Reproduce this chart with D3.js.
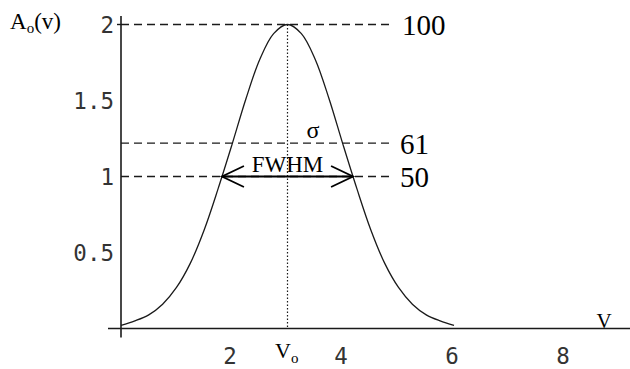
<!DOCTYPE html>
<html>
<head>
<meta charset="utf-8">
<script src="https://cdn.jsdelivr.net/npm/d3@7"></script>
<style>
  html, body { margin: 0; padding: 0; background: #fff; overflow: hidden; }
  svg { display: block; }
</style>
</head>
<body>
<svg id="chart" width="630" height="369"></svg>
<script>
// Line profile A_o(v), sampled every 0.25 along v
const vSamples = [0, 0.25, 0.5, 0.75, 1, 1.25, 1.5, 1.75, 2, 2.25, 2.5, 2.75, 3,
                  3.25, 3.5, 3.75, 4, 4.25, 4.5, 4.75, 5, 5.25, 5.5, 5.75, 6];
const aSamples = [0.02, 0.05, 0.09, 0.16, 0.27, 0.43, 0.65, 0.92, 1.21, 1.51, 1.77, 1.94, 2.00,
                  1.94, 1.77, 1.51, 1.21, 0.92, 0.65, 0.43, 0.27, 0.16, 0.09, 0.05, 0.02];

// Axis ticks
const xTicks = [2, 4, 6, 8];
const yTicks = [0.5, 1, 1.5, 2];
const yTickLabels = ["0.5", "1", "1.5", "2"];

// Line centre and the marked levels (percent of the peak)
const centreV = 3;
const levelPercents = [100, 61, 50];

const svg = d3.select("#chart");

const x = d3.scaleLinear().domain([0, 1]).range([121, 176.5]);
const y = d3.scaleLinear().domain([0, 2]).range([328.5, 24.5]);

const peak = d3.max(aSamples);
const ink = "#1a1a1a";
const serif = "'Liberation Serif', 'Times New Roman', serif";
const mono = "'DejaVu Sans Mono', monospace";

// Axes: plain crossing lines
svg.append("line")
  .attr("x1", x(0) - 13).attr("x2", 630)
  .attr("y1", y(0)).attr("y2", y(0))
  .attr("stroke", ink).attr("stroke-width", 1.6);
svg.append("line")
  .attr("x1", x(0)).attr("x2", x(0))
  .attr("y1", 16).attr("y2", y(0) + 9)
  .attr("stroke", ink).attr("stroke-width", 1.6);
svg.append("line")
  .attr("x1", x(0) - 4).attr("x2", x(0))
  .attr("y1", y(2)).attr("y2", y(2))
  .attr("stroke", ink).attr("stroke-width", 1.4);

// Tick labels
svg.append("g").selectAll("text").data(yTicks).join("text")
  .attr("x", x(0) - 7)
  .attr("y", d => y(d))
  .attr("dy", "0.36em")
  .attr("text-anchor", "end")
  .attr("font-family", mono).attr("font-size", 22.5)
  .attr("fill", "#333")
  .text((d, i) => yTickLabels[i]);

svg.append("g").selectAll("text").data(xTicks).join("text")
  .attr("x", d => x(d) - 2)
  .attr("y", 356)
  .attr("dy", "0.36em")
  .attr("text-anchor", "middle")
  .attr("font-family", mono).attr("font-size", 22.5)
  .attr("fill", "#333")
  .text(d => d);

// Where the profile crosses a level, left and right of the centre
function crossings(level) {
  const out = [];
  for (let i = 0; i < vSamples.length - 1; i++) {
    const a0 = aSamples[i], a1 = aSamples[i + 1];
    if ((a0 - level) * (a1 - level) <= 0 && a0 !== a1) {
      const t = (level - a0) / (a1 - a0);
      out.push(vSamples[i] + t * (vSamples[i + 1] - vSamples[i]));
    }
  }
  return out;
}

// Dashed level lines with their percent labels
const lineEnd = 392;
levelPercents.forEach(p => {
  const level = peak * p / 100;
  svg.append("line")
    .attr("x1", x(0)).attr("x2", lineEnd)
    .attr("y1", y(level)).attr("y2", y(level))
    .attr("stroke", ink).attr("stroke-width", 1.3)
    .attr("stroke-dasharray", "8,5");
  svg.append("text")
    .attr("x", p === 100 ? 402 : 400)
    .attr("y", y(level))
    .attr("dy", "0.36em")
    .attr("font-family", serif).attr("font-size", 29)
    .attr("fill", "#000")
    .text(p);
});

// Dotted line at the centre
svg.append("line")
  .attr("x1", x(centreV)).attr("x2", x(centreV))
  .attr("y1", y(peak)).attr("y2", y(0))
  .attr("stroke", ink).attr("stroke-width", 1.2)
  .attr("stroke-dasharray", "1.5,2");

// Profile
const line = d3.line()
  .x((d, i) => x(vSamples[i]))
  .y(d => y(d))
  .curve(d3.curveCatmullRom);
svg.append("path")
  .attr("d", line(aSamples))
  .attr("fill", "none")
  .attr("stroke", ink).attr("stroke-width", 1.3);

// FWHM double arrow between the half-maximum crossings
const half = peak * 0.5;
const [vl, vr] = [d3.min(crossings(half)), d3.max(crossings(half))];
const ya = y(half);
svg.append("line")
  .attr("x1", x(vl)).attr("x2", x(vr))
  .attr("y1", ya).attr("y2", ya)
  .attr("stroke", "#000").attr("stroke-width", 2);
const armX = 22, armY = 10.5;
svg.append("path")
  .attr("d", `M${x(vl) + armX},${ya - armY}L${x(vl)},${ya}L${x(vl) + armX},${ya + armY}` +
             `M${x(vr) - armX},${ya - armY}L${x(vr)},${ya}L${x(vr) - armX},${ya + armY}`)
  .attr("fill", "none").attr("stroke", "#000").attr("stroke-width", 1.8);

svg.append("text")
  .attr("x", x(centreV)).attr("y", ya - 5)
  .attr("text-anchor", "middle")
  .attr("font-family", serif).attr("font-size", 23)
  .text("FWHM");

svg.append("text")
  .attr("x", 313).attr("y", y(peak * 0.61) - 5)
  .attr("text-anchor", "middle")
  .attr("font-family", serif).attr("font-size", 24)
  .text("σ");

// Axis names
const yName = svg.append("text")
  .attr("x", 10).attr("y", 29)
  .attr("font-family", serif).attr("font-size", 23);
yName.append("tspan").text("A");
yName.append("tspan").attr("font-size", 15).attr("dy", 4).text("o");
yName.append("tspan").attr("dy", -4).text("(v)");

svg.append("text")
  .attr("x", 604).attr("y", y(0) - 0.5)
  .attr("text-anchor", "middle")
  .attr("font-family", serif).attr("font-size", 21)
  .text("V");

const v0 = svg.append("text")
  .attr("x", 275).attr("y", 358)
  .attr("font-family", serif).attr("font-size", 22);
v0.append("tspan").text("V");
v0.append("tspan").attr("font-size", 15).attr("dy", 5).text("o");
</script>
</body>
</html>
